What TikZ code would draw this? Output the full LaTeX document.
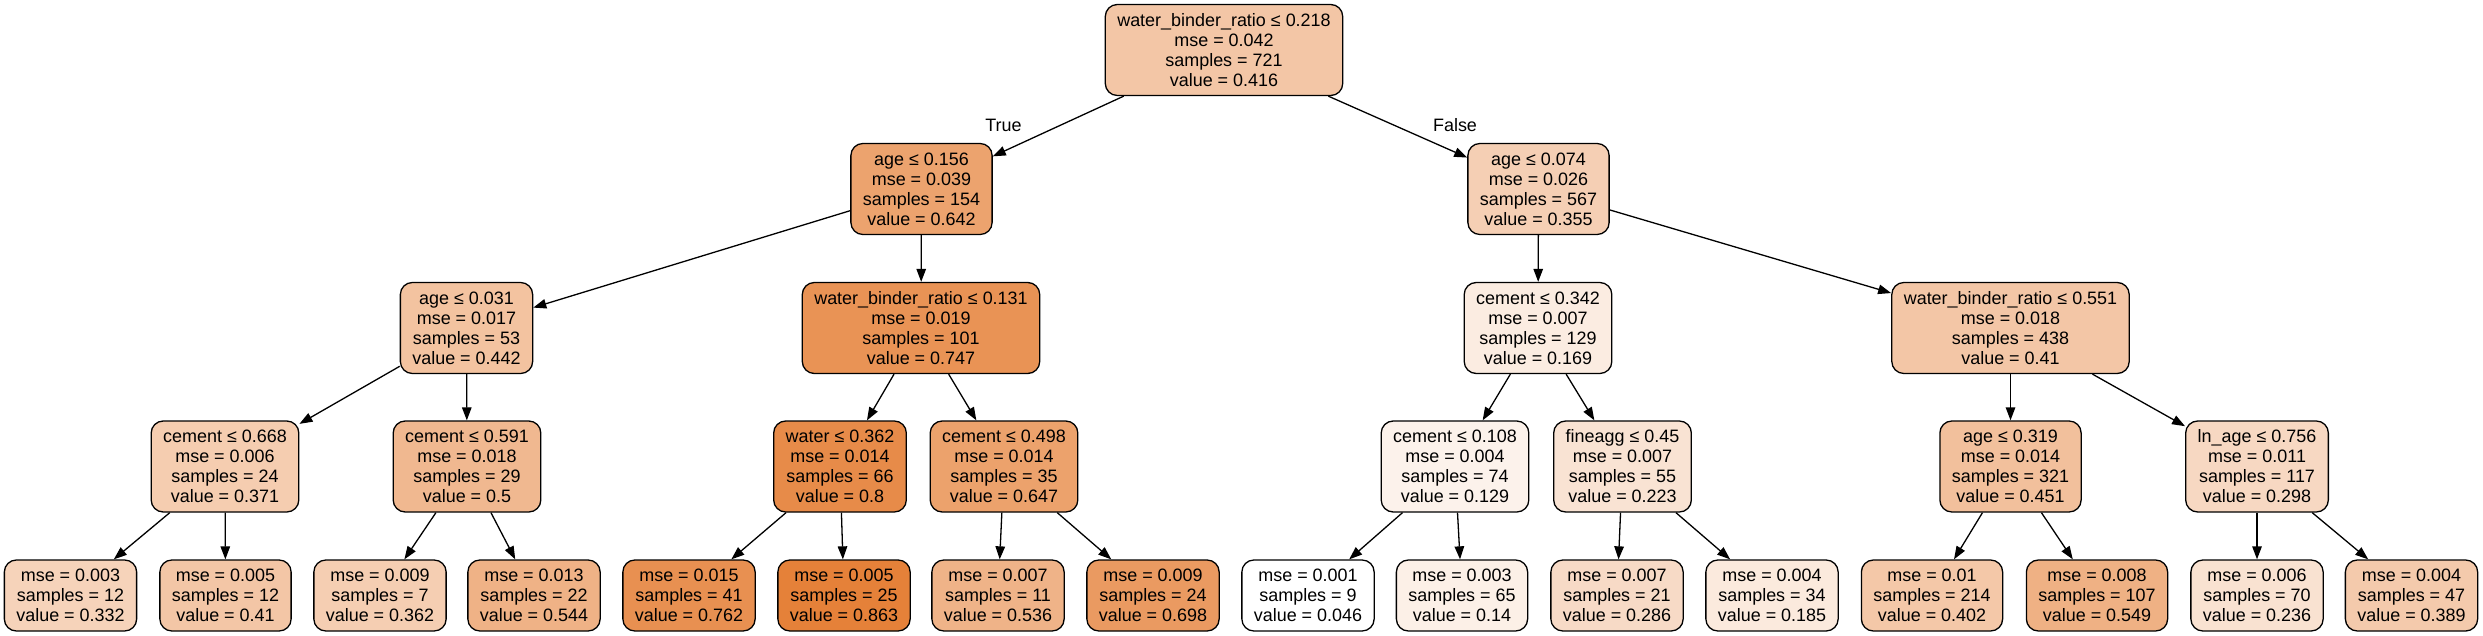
\documentclass[tikz,border=0pt]{standalone}
\usepackage{fontspec}
\setmainfont{Liberation Sans}
\usetikzlibrary{arrows.meta}
\definecolor{treeorange}{RGB}{229,129,57}
\newcommand{\treefont}{\fontsize{17.95}{20}\selectfont}
\tikzstyle{splitbox} = [draw=black, line width=1.3pt, rectangle, rounded corners=12pt,
    inner xsep=12pt, inner ysep=2pt, minimum height=91pt, align=center, font=\treefont]
\tikzstyle{leafbox} = [splitbox, minimum height=71pt]
\tikzstyle{branch} = [line width=1.3pt, -{Triangle[length=13pt,width=9.5pt]}]
\tikzstyle{branchlabel} = [inner sep=0pt, font=\treefont]

\begin{document}
\begin{tikzpicture}[x=1pt, y=1pt]
    \useasboundingbox (0,0) rectangle (2483,-636);
    % root and splits
    \node[splitbox, fill=treeorange!45] (root) at (1224,-50) {water\_binder\_ratio ≤ 0.218\\mse = 0.042\\samples = 721\\value = 0.416};
    \node[splitbox, fill=treeorange!73] (ageA) at (921.5,-189) {age ≤ 0.156\\mse = 0.039\\samples = 154\\value = 0.642};
    \node[splitbox, fill=treeorange!38] (ageB) at (1538.5,-189) {age ≤ 0.074\\mse = 0.026\\samples = 567\\value = 0.355};
    \node[splitbox, fill=treeorange!48] (ageC) at (466.5,-328) {age ≤ 0.031\\mse = 0.017\\samples = 53\\value = 0.442};
    \node[splitbox, fill=treeorange!86] (wbrA) at (921,-328) {water\_binder\_ratio ≤ 0.131\\mse = 0.019\\samples = 101\\value = 0.747};
    \node[splitbox, fill=treeorange!15] (cemA) at (1538,-328) {cement ≤ 0.342\\mse = 0.007\\samples = 129\\value = 0.169};
    \node[splitbox, fill=treeorange!45] (wbrB) at (2010.5,-328) {water\_binder\_ratio ≤ 0.551\\mse = 0.018\\samples = 438\\value = 0.41};
    \node[splitbox, fill=treeorange!40] (cemB) at (225,-466.5) {cement ≤ 0.668\\mse = 0.006\\samples = 24\\value = 0.371};
    \node[splitbox, fill=treeorange!56] (cemC) at (467,-466.5) {cement ≤ 0.591\\mse = 0.018\\samples = 29\\value = 0.5};
    \node[splitbox, fill=treeorange!92] (water) at (840,-466.5) {water ≤ 0.362\\mse = 0.014\\samples = 66\\value = 0.8};
    \node[splitbox, fill=treeorange!74] (cemD) at (1004,-466.5) {cement ≤ 0.498\\mse = 0.014\\samples = 35\\value = 0.647};
    \node[splitbox, fill=treeorange!10] (cemE) at (1455,-466.5) {cement ≤ 0.108\\mse = 0.004\\samples = 74\\value = 0.129};
    \node[splitbox, fill=treeorange!22] (fine) at (1622.5,-466.5) {fineagg ≤ 0.45\\mse = 0.007\\samples = 55\\value = 0.223};
    \node[splitbox, fill=treeorange!50] (ageD) at (2010.5,-466.5) {age ≤ 0.319\\mse = 0.014\\samples = 321\\value = 0.451};
    \node[splitbox, fill=treeorange!31] (lnage) at (2257,-466.5) {ln\_age ≤ 0.756\\mse = 0.011\\samples = 117\\value = 0.298};
    % leaves
    \node[leafbox, fill=treeorange!35] (leafA) at (70.5,-595.5) {mse = 0.003\\samples = 12\\value = 0.332};
    \node[leafbox, fill=treeorange!45] (leafB) at (225.5,-595.5) {mse = 0.005\\samples = 12\\value = 0.41};
    \node[leafbox, fill=treeorange!39] (leafC) at (380,-595.5) {mse = 0.009\\samples = 7\\value = 0.362};
    \node[leafbox, fill=treeorange!61] (leafD) at (534,-595.5) {mse = 0.013\\samples = 22\\value = 0.544};
    \node[leafbox, fill=treeorange!88] (leafE) at (689,-595.5) {mse = 0.015\\samples = 41\\value = 0.762};
    \node[leafbox, fill=treeorange!100] (leafF) at (844,-595.5) {mse = 0.005\\samples = 25\\value = 0.863};
    \node[leafbox, fill=treeorange!60] (leafG) at (998,-595.5) {mse = 0.007\\samples = 11\\value = 0.536};
    \node[leafbox, fill=treeorange!80] (leafH) at (1153,-595.5) {mse = 0.009\\samples = 24\\value = 0.698};
    \node[leafbox, fill=white] (leafI) at (1308,-595.5) {mse = 0.001\\samples = 9\\value = 0.046};
    \node[leafbox, fill=treeorange!12] (leafJ) at (1462,-595.5) {mse = 0.003\\samples = 65\\value = 0.14};
    \node[leafbox, fill=treeorange!29] (leafK) at (1617,-595.5) {mse = 0.007\\samples = 21\\value = 0.286};
    \node[leafbox, fill=treeorange!17] (leafL) at (1772,-595.5) {mse = 0.004\\samples = 34\\value = 0.185};
    \node[leafbox, fill=treeorange!44] (leafM) at (1932,-595.5) {mse = 0.01\\samples = 214\\value = 0.402};
    \node[leafbox, fill=treeorange!62] (leafN) at (2097,-595.5) {mse = 0.008\\samples = 107\\value = 0.549};
    \node[leafbox, fill=treeorange!23] (leafO) at (2257,-595.5) {mse = 0.006\\samples = 70\\value = 0.236};
    \node[leafbox, fill=treeorange!42] (leafP) at (2411.5,-595.5) {mse = 0.004\\samples = 47\\value = 0.389};
    % branches
    \foreach \from/\to in {root/ageA, root/ageB, ageA/ageC, ageA/wbrA, ageB/cemA, ageB/wbrB,
        ageC/cemB, ageC/cemC, wbrA/water, wbrA/cemD, cemA/cemE, cemA/fine, wbrB/ageD, wbrB/lnage,
        cemB/leafA, cemB/leafB, cemC/leafC, cemC/leafD, water/leafE, water/leafF, cemD/leafG, cemD/leafH,
        cemE/leafI, cemE/leafJ, fine/leafK, fine/leafL, ageD/leafM, ageD/leafN, lnage/leafO, lnage/leafP}
        \draw[branch] (\from) -- (\to);
    \node[branchlabel] (truelabel) at (1003.5,-125) {True};
    \node[branchlabel] (falselabel) at (1455,-125) {False};
\end{tikzpicture}
\end{document}
